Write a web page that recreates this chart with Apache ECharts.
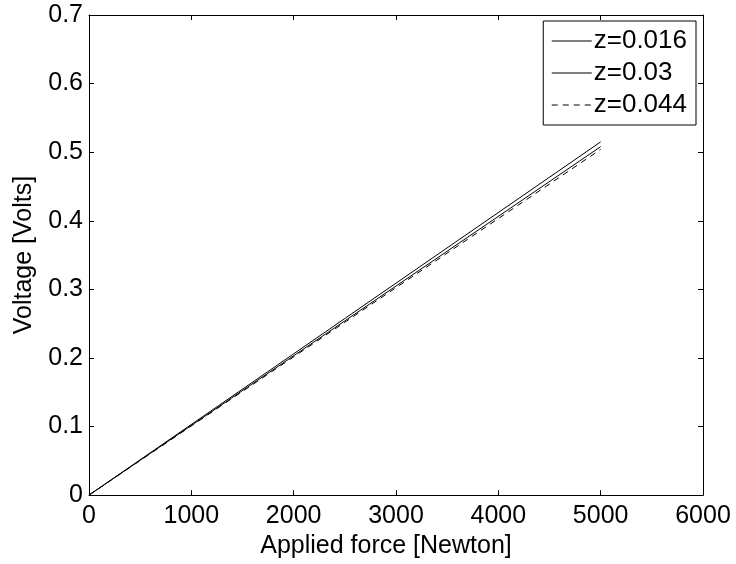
<!DOCTYPE html>
<html>
<head>
<meta charset="utf-8">
<script src="https://cdn.jsdelivr.net/npm/echarts@6/dist/echarts.min.js"></script>
<style>
	html, body { margin: 0; padding: 0; background: #fff; }
	#chart { width: 736px; height: 564px; }
</style>
</head>
<body>
<div id="chart"></div>
<script>
'use strict';

// applied force [N] at the two ends of each line
var force = [0, 5000];

// voltage [V]
var v016 = [0, 0.515];
var v030 = [0, 0.508];
var v044 = [0, 0.504];

var seriesNames = ['z=0.016', 'z=0.03', 'z=0.044'];

var font = 'Liberation Sans, Arial, Helvetica, sans-serif';

function pairs(xs, ys){
	return xs.map(function(x, i){ return [x, ys[i]]; });
}

function lineSeries(name, ys, type){
	return {
		name: name,
		type: 'line',
		data: pairs(force, ys),
		symbol: 'none',
		animation: false,
		lineStyle: { color: '#000', width: 1, type: type },
		itemStyle: { color: '#000' },
	};
}

var axisLine = { show: true, onZero: false, lineStyle: { color: '#000', width: 1 } };
var tick = { show: true, inside: true, length: 5, lineStyle: { color: '#000' } };

var option = {
	backgroundColor: '#fff',
	grid: { left: 89, right: 33, top: 15, bottom: 66 },
	legend: {
		orient: 'vertical',
		right: 40,
		top: 21,
		padding: [7, 9, 7, 8],
		itemWidth: 40,
		itemHeight: 14,
		itemGap: 6,
		backgroundColor: '#fff',
		borderColor: '#000',
		borderWidth: 1,
		borderRadius: 0,
		itemStyle: { opacity: 0 },
		lineStyle: { width: 1 },
		textStyle: { fontFamily: font, fontSize: 26, color: '#000', padding: [0, 0, 0, -3] },
		data: seriesNames,
	},
	xAxis: [{
		type: 'value',
		min: 0, max: 6000, interval: 1000,
		name: 'Applied force [Newton]',
		nameLocation: 'middle',
		nameGap: 35,
		nameTextStyle: { fontFamily: font, fontSize: 25, color: '#000', padding: [0, 20, 0, 0] },
		axisLine: axisLine,
		axisTick: tick,
		axisLabel: {
			fontFamily: font, fontSize: 25, color: '#000', margin: 9,
			formatter: function(v){ return String(v); },
		},
		splitLine: { show: false },
	}, {
		type: 'value', position: 'top',
		min: 0, max: 6000, interval: 1000,
		axisLine: axisLine, axisTick: tick,
		axisLabel: { show: false }, splitLine: { show: false },
	}],
	yAxis: [{
		type: 'value',
		min: 0, max: 0.7, interval: 0.1,
		name: 'Voltage [Volts]',
		nameLocation: 'middle',
		nameGap: 52,
		nameTextStyle: { fontFamily: font, fontSize: 25, color: '#000' },
		axisLine: axisLine,
		axisTick: tick,
		axisLabel: { fontFamily: font, fontSize: 25, color: '#000', margin: 6 },
		splitLine: { show: false },
	}, {
		type: 'value', position: 'right',
		min: 0, max: 0.7, interval: 0.1,
		axisLine: axisLine, axisTick: tick,
		axisLabel: { show: false }, splitLine: { show: false },
	}],
	series: [
		lineSeries(seriesNames[0], v016, 'solid'),
		lineSeries(seriesNames[1], v030, 'solid'),
		lineSeries(seriesNames[2], v044, [6, 5]),
	],
};

echarts.init(document.getElementById('chart')).setOption(option);
</script>
</body>
</html>
